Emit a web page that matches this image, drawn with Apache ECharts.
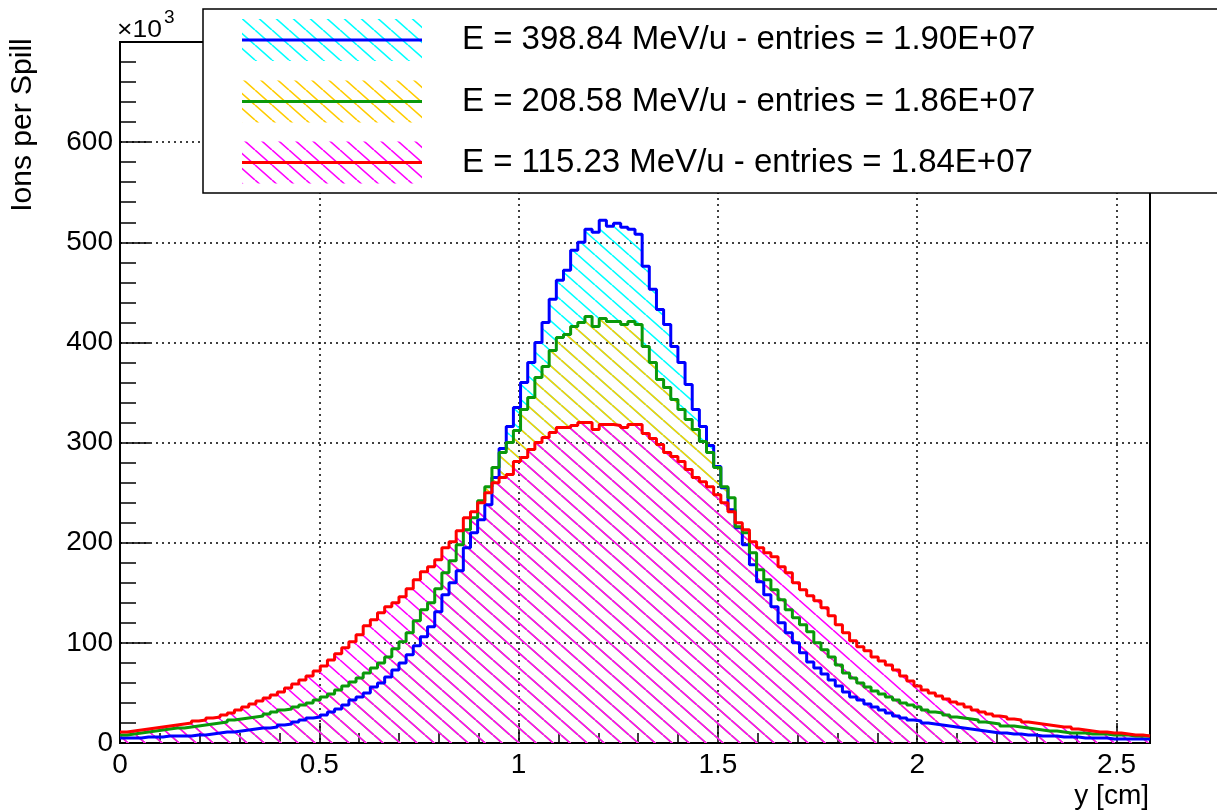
<!DOCTYPE html>
<html>
<head>
<meta charset="utf-8">
<script src="https://cdn.jsdelivr.net/npm/echarts@6/dist/echarts.min.js"></script>
<style>
html, body { margin: 0; padding: 0; background: #fff; }
#main { width: 1217px; height: 812px; }
</style>
</head>
<body>
<div id="main"></div>
<script>
// histogram binning (y position, cm)
var X_MIN = 0;
var X_MAX = 2.584;
var N_BINS = 144;

// legend labels
var labels = [
    'E = 398.84 MeV/u - entries = 1.90E+07',
    'E = 208.58 MeV/u - entries = 1.86E+07',
    'E = 115.23 MeV/u - entries = 1.84E+07'
];

// ions per spill, units of 10^3, one value per bin
var ions398 = [
    5, 5, 5, 6, 6, 6, 7, 7, 7, 7,
    8, 8, 9, 10, 11, 11, 12, 13, 14, 15,
    15, 16, 18, 19, 21, 23, 25, 26, 28, 31,
    34, 38, 43, 46, 50, 56, 60, 66, 73, 80,
    88, 97, 106, 116, 131, 148, 160, 172, 195, 210,
    223, 238, 265, 294, 316, 335, 360, 380, 400, 420,
    443, 462, 472, 492, 500, 513, 510, 522, 516, 519,
    515, 513, 508, 476, 453, 433, 418, 396, 380, 358,
    333, 316, 297, 276, 255, 233, 215, 198, 178, 161,
    148, 136, 120, 110, 100, 90, 81, 75, 69, 63,
    57, 51, 46, 43, 39, 36, 33, 30, 27, 25,
    23, 22, 20, 19, 18, 17, 16, 15, 14, 13,
    12, 11, 10, 10, 9, 9, 8, 8, 7, 7,
    7, 6, 6, 6, 5, 5, 5, 5, 4, 4,
    4, 4, 4, 4
];

var ions208 = [
    8, 9, 10, 11, 12, 13, 14, 15, 15, 16,
    17, 18, 19, 20, 21, 23, 24, 25, 26, 27,
    29, 31, 33, 34, 36, 38, 40, 43, 46, 49,
    53, 57, 61, 65, 70, 75, 80, 86, 94, 101,
    110, 122, 133, 140, 154, 170, 182, 198, 213, 225,
    242, 256, 275, 290, 300, 312, 333, 345, 365, 376,
    392, 405, 408, 416, 420, 426, 416, 424, 421, 421,
    418, 421, 418, 396, 380, 363, 355, 343, 333, 323,
    313, 301, 290, 275, 256, 245, 216, 210, 190, 173,
    163, 153, 143, 133, 125, 118, 111, 100, 93, 86,
    78, 70, 65, 60, 56, 52, 49, 46, 43, 40,
    38, 36, 33, 31, 30, 28, 26, 25, 24, 23,
    21, 20, 19, 17, 17, 16, 15, 14, 13, 12,
    12, 11, 10, 10, 10, 9, 9, 9, 8, 8,
    8, 7, 7, 7
];

var ions115 = [
    11, 12, 13, 14, 15, 16, 17, 18, 19, 20,
    22, 23, 25, 26, 28, 30, 33, 36, 39, 42,
    45, 48, 51, 55, 59, 63, 67, 72, 77, 83,
    89, 95, 101, 108, 117, 123, 130, 136, 140, 146,
    154, 163, 171, 176, 183, 195, 201, 212, 225, 231,
    240, 250, 260, 265, 268, 281, 285, 293, 300, 305,
    310, 315, 315, 317, 320, 320, 313, 318, 318, 317,
    315, 318, 318, 309, 304, 298, 290, 286, 281, 273,
    265, 261, 256, 248, 240, 231, 220, 213, 201, 195,
    190, 186, 176, 170, 160, 153, 147, 142, 135, 127,
    118, 110, 102, 96, 92, 86, 82, 78, 73, 67,
    62, 57, 53, 50, 47, 44, 41, 39, 36, 33,
    31, 29, 27, 26, 24, 23, 21, 20, 19, 18,
    17, 16, 16, 14, 13, 12, 11, 11, 10, 10,
    9, 8, 8, 7
];

var lineColors = ['#0000ff', '#0a990a', '#ff0000'];
var hatchColors = ['#00ffff', '#ffcc00', '#ff00ff'];
var FONT = '"Liberation Sans", Arial, sans-serif';

// diagonal hatch tile, like ROOT fill style 3005
function hatch(color) {
    var w = 17, h = 15;
    var c = document.createElement('canvas');
    c.width = w;
    c.height = h;
    var ctx = c.getContext('2d');
    ctx.strokeStyle = color;
    ctx.lineWidth = 1.6;
    ctx.beginPath();
    [-w, 0, w].forEach(function(dx) {
        ctx.moveTo(dx, 0);
        ctx.lineTo(dx + w, h);
    });
    ctx.stroke();
    return c;
}

function toSteps(values) {
    var bw = (X_MAX - X_MIN) / N_BINS;
    var pts = values.map(function(v, i) {
        return [X_MIN + i * bw, v];
    });
    pts.push([X_MAX, values[values.length - 1]]);
    return pts;
}

var hists = [ions398, ions208, ions115];
var series = [];

hists.forEach(function(h, k) {
    series.push({
        name: labels[k] + ' fill',
        type: 'line',
        step: 'end',
        symbol: 'none',
        silent: true,
        data: toSteps(h),
        lineStyle: { width: 0, opacity: 0 },
        areaStyle: { color: { image: hatch(hatchColors[k]), repeat: 'repeat' }, opacity: 1 },
        z: 2
    });
});

// outlines on top of all hatching
[1, 0, 2].forEach(function(k) {
    series.push({
        name: labels[k],
        type: 'line',
        step: 'end',
        symbol: 'none',
        silent: true,
        data: toSteps(hists[k]),
        lineStyle: { color: lineColors[k], width: 3 },
        z: 3 + k
    });
});

function txt(x, y, text, size, extra) {
    var style = { text: text, fontSize: size, fontFamily: FONT, fill: '#000' };
    for (var key in extra) {
        if (extra.hasOwnProperty(key)) style[key] = extra[key];
    }
    return { type: 'text', z: 102, x: x, y: y, style: style };
}

var legendRows = [40, 101.5, 162.5];
var graphics = [
    { type: 'rect', z: 100, shape: { x: 203, y: 9, width: 1030, height: 184 },
      style: { fill: '#fff', stroke: '#000', lineWidth: 1.5 } },
    txt(1149, 796, 'y [cm]', 28, { textAlign: 'right', textVerticalAlign: 'middle' })
];
var exp10 = txt(117, 42, '\u00d710', 23, { textVerticalAlign: 'bottom' });
exp10.scaleX = 1.15;
graphics.push(exp10);
graphics.push(txt(164, 27, '3', 19, { textVerticalAlign: 'bottom' }));

var yTitle = txt(23, 125, 'Ions per Spill', 30, { textAlign: 'center', textVerticalAlign: 'middle' });
yTitle.rotation = Math.PI / 2;
graphics.push(yTitle);

legendRows.forEach(function(yc, k) {
    graphics.push({ type: 'rect', z: 101, shape: { x: 242, y: yc - 21, width: 180, height: 42 },
        style: { fill: { image: hatch(hatchColors[k]), repeat: 'repeat' } } });
    graphics.push({ type: 'line', z: 102, shape: { x1: 242, y1: yc, x2: 422, y2: yc },
        style: { stroke: lineColors[k], lineWidth: 3 } });
    graphics.push(txt(462, yc, labels[k], 33, { textVerticalAlign: 'middle' }));
});

var dotted = { color: '#000', width: 1.5, type: [2, 4] };

var option = {
    animation: false,
    grid: {
        left: 120, right: 67, top: 42, bottom: 69,
        show: true, borderColor: '#000', borderWidth: 2, backgroundColor: 'transparent'
    },
    xAxis: [{
        type: 'value',
        min: X_MIN,
        max: X_MAX,
        interval: 0.5,
        axisLine: { lineStyle: { color: '#000', width: 2 } },
        axisTick: { inside: true, length: 20, lineStyle: { color: '#000', width: 1.5 } },
        axisLabel: { color: '#000', fontSize: 28, fontFamily: FONT, margin: 8, showMaxLabel: false },
        splitLine: { show: true, lineStyle: dotted }
    }, {
        // minor ticks every 0.1
        type: 'value',
        min: X_MIN,
        max: X_MAX,
        interval: 0.1,
        position: 'bottom',
        axisLine: { show: false },
        axisTick: { inside: true, length: 10, lineStyle: { color: '#000', width: 1.5 } },
        axisLabel: { show: false },
        splitLine: { show: false }
    }],
    yAxis: {
        type: 'value',
        min: 0,
        max: 700,
        interval: 100,
        axisLine: { show: true, lineStyle: { color: '#000', width: 2 } },
        axisTick: { show: true, inside: true, length: 30, lineStyle: { color: '#000', width: 1.5 } },
        minorTick: { show: true, splitNumber: 5, length: 16, lineStyle: { color: '#000', width: 1.5 } },
        axisLabel: { color: '#000', fontSize: 28, fontFamily: FONT, margin: 7, showMaxLabel: false },
        splitLine: { show: true, lineStyle: dotted }
    },
    series: series,
    graphic: graphics
};

var chart = echarts.init(document.getElementById('main'), null, { renderer: 'canvas' });
chart.setOption(option);
</script>
</body>
</html>
